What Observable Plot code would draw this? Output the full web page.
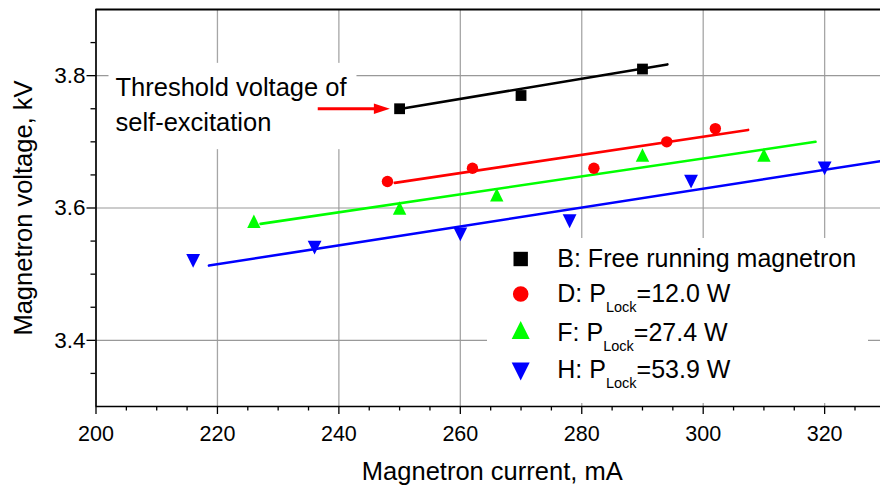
<!DOCTYPE html>
<html>
<head>
<meta charset="utf-8">
<script src="https://cdn.jsdelivr.net/npm/d3@7"></script>
<script src="https://cdn.jsdelivr.net/npm/@observablehq/plot@0.6"></script>
<style>
  html, body { margin: 0; padding: 0; background: #ffffff; }
  #chart { width: 880px; height: 489px; }
</style>
</head>
<body>
<div id="chart"></div>
<script>
// ---------- data ----------
const xMajor = [200, 220, 240, 260, 280, 300, 320];
const xMinor = [205, 210, 215, 225, 230, 235, 245, 250, 255, 265, 270, 275, 285, 290, 295, 305, 310, 315, 325];
const yMajor = [3.4, 3.6, 3.8];
const yMinor = [3.35, 3.45, 3.5, 3.55, 3.65, 3.7, 3.75, 3.85];

const currentB = [250, 270, 290];
const voltageB = [3.75, 3.77, 3.81];
const currentD = [248, 262, 282, 294, 302];
const voltageD = [3.64, 3.66, 3.66, 3.70, 3.72];
const currentF = [226, 250, 266, 290, 310];
const voltageF = [3.58, 3.60, 3.62, 3.68, 3.68];
const currentH = [216, 236, 260, 278, 298, 320];
const voltageH = [3.52, 3.54, 3.56, 3.58, 3.64, 3.66];

// linear-fit lines (start / end)
const fitCurrentB = [251, 294.1];
const fitVoltageB = [3.751, 3.817];
const fitCurrentD = [249.2, 307.4];
const fitVoltageD = [3.638, 3.718];
const fitCurrentF = [227.1, 318.5];
const fitVoltageF = [3.576, 3.700];
const fitCurrentH = [218.6, 330];
const fitVoltageH = [3.513, 3.672];

const legendPrefix = ["B: Free running magnetron", "D: P", "F: P", "H: P"];
const legendSub = ["", "Lock", "Lock", "Lock"];
const legendSuffix = ["", "=12.0 W", "=27.4 W", "=53.9 W"];

const annotationText = "Threshold voltage of\nself-excitation";
const arrowCurrent = [236.6, 248.4];
const arrowVoltage = [3.75];

const xTitle = "Magnetron current, mA";
const yTitle = "Magnetron voltage, kV";

// ---------- styles ----------
const colors = ["#000000", "#ff0000", "#00ff00", "#0000ff"];
const FONT = "Arial, 'Liberation Sans', sans-serif";

// custom symbols (half-size = sqrt(size/pi))
const sqSym = { draw(c, s) { const r = Math.sqrt(s / Math.PI); c.rect(-r, -r, 2 * r, 2 * r); } };
const triUp = { draw(c, s) { const r = Math.sqrt(s / Math.PI); c.moveTo(0, -r); c.lineTo(r, r); c.lineTo(-r, r); c.closePath(); } };
const triDown = { draw(c, s) { const r = Math.sqrt(s / Math.PI); c.moveTo(0, r); c.lineTo(r, -r); c.lineTo(-r, -r); c.closePath(); } };
const triRight = { draw(c, s) { const r = Math.sqrt(s / Math.PI); c.moveTo(r, 0); c.lineTo(-r, -0.66 * r); c.lineTo(-r, 0.66 * r); c.closePath(); } };
const symbols = [sqSym, d3.symbolCircle, triUp, triDown];
const dotR = [5.4, 5.7, 6.7, 6.9];
const legendR = [7.2, 7.8, 9, 9];

const zip = (xs, ys) => xs.map((x, i) => ({current: x, voltage: ys[i]}));
const points = [zip(currentB, voltageB), zip(currentD, voltageD), zip(currentF, voltageF), zip(currentH, voltageH)];
const fits = [zip(fitCurrentB, fitVoltageB), zip(fitCurrentD, fitVoltageD), zip(fitCurrentF, fitVoltageF), zip(fitCurrentH, fitVoltageH)];

const marks = [];
// grid
marks.push(Plot.ruleX(xMajor.filter(v => v > 200), {stroke: "#a6a6a6", strokeWidth: 1.3}));
marks.push(Plot.ruleY(yMajor, {stroke: "#999999", strokeWidth: 1.2}));
// annotation
marks.push(Plot.text([annotationText], {
  text: d => d, frameAnchor: "top-left", dx: 19.5, dy: 61.3,
  lineAnchor: "top", textAnchor: "start", fontSize: 25.5, lineHeight: 1.384,
  fill: "#000", ariaDescription: "annotation"
}));
marks.push(Plot.ruleY(arrowVoltage, {x1: arrowCurrent[0], x2: arrowCurrent[1], insetRight: 10, stroke: "#ff0000", strokeWidth: 3}));
marks.push(Plot.dot(arrowVoltage, {x: arrowCurrent[1], y: d => d, symbol: triRight, r: 8, dx: -8, fill: "#ff0000"}));
// fit lines
fits.forEach((f, i) => marks.push(Plot.line(f, {x: "current", y: "voltage", stroke: colors[i], strokeWidth: 2.6, clip: true})));
// points
points.forEach((p, i) => marks.push(Plot.dot(p, {x: "current", y: "voltage", symbol: symbols[i], r: dotR[i], fill: colors[i]})));
// frame lines
marks.push(Plot.ruleY([3.9], {stroke: "#000", strokeWidth: 2}));
marks.push(Plot.ruleY([3.3], {stroke: "#000", strokeWidth: 1.7}));
marks.push(Plot.ruleX([200], {stroke: "#000", strokeWidth: 1.7}));
// axes
marks.push(Plot.axisX(xMajor, {anchor: "bottom", tickSize: 8, tickPadding: 11, fontSize: 21.5, label: null, strokeWidth: 1.3}));
marks.push(Plot.axisX(xMinor, {anchor: "bottom", tickSize: 4.5, fill: "none", label: null, strokeWidth: 1.3}));
marks.push(Plot.axisY(yMajor, {anchor: "left", tickSize: 9, tickPadding: 1.5, fontSize: 22.5, label: null, strokeWidth: 1.3, tickFormat: d3.format(".1f")}));
marks.push(Plot.axisY(yMinor, {anchor: "left", tickSize: 5, fill: "none", label: null, strokeWidth: 1.3}));
// titles
marks.push(Plot.text([xTitle], {text: d => d, frameAnchor: "bottom", lineAnchor: "top", textAnchor: "middle", dx: 4, dy: 55.7, fontSize: 25.5, fill: "#000"}));
marks.push(Plot.text([yTitle], {text: d => d, frameAnchor: "left", lineAnchor: "top", textAnchor: "middle", rotate: -90, dx: -82.2, fontSize: 25.5, fill: "#000"}));

const svg = Plot.plot({
  width: 880,
  height: 489,
  marginLeft: 95.5,
  marginRight: 0,
  marginTop: 9,
  marginBottom: 83,
  x: {domain: [200, 329.2]},
  y: {domain: [3.3, 3.9]},
  style: {fontFamily: FONT, background: "#ffffff", color: "#000", overflow: "visible"},
  marks
});
document.getElementById("chart").appendChild(svg);

// white box behind the annotation text
const ns = "http://www.w3.org/2000/svg";
let annot = svg.querySelector('g[aria-description="annotation"]');
if (!annot) {
  annot = Array.from(svg.querySelectorAll('g[aria-label="text"]')).find(g => g.textContent.startsWith("Threshold"));
}
if (annot) {
  const bb = annot.getBBox();
  const r = document.createElementNS(ns, "rect");
  r.setAttribute("x", bb.x - 7);
  r.setAttribute("y", bb.y - 10);
  r.setAttribute("width", bb.width + 16);
  r.setAttribute("height", bb.height + 23);
  r.setAttribute("fill", "#ffffff");
  r.setAttribute("stroke", "none");
  annot.insertBefore(r, annot.firstChild);
}

// legend
const legendBox = {x: 487, y: 238, w: 381, h: 165};
const legendSymX = 520.7, legendTextX = 557.3;
const legendSymY = [259, 294, 330, 371.5];
const legendBaseY = [267.3, 302, 341, 378.3];
const lg = d3.select(svg).append("g").attr("font-family", FONT).attr("text-anchor", "start");
lg.append("rect").attr("x", legendBox.x).attr("y", legendBox.y).attr("width", legendBox.w).attr("height", legendBox.h).attr("fill", "#ffffff");
legendPrefix.forEach((p, i) => {
  lg.append("path")
    .attr("d", d3.symbol(symbols[i], Math.PI * legendR[i] * legendR[i])())
    .attr("transform", `translate(${legendSymX},${legendSymY[i]})`)
    .attr("fill", colors[i]);
  const t = lg.append("text").attr("x", legendTextX).attr("y", legendBaseY[i])
    .attr("font-size", 25).attr("fill", "#000").attr("text-anchor", "start");
  t.append("tspan").text(p);
  if (legendSub[i]) {
    t.append("tspan").attr("font-size", 14.5).attr("dy", 10).text(legendSub[i]);
    t.append("tspan").attr("dy", -10).text(legendSuffix[i]);
  }
});
</script>
</body>
</html>
